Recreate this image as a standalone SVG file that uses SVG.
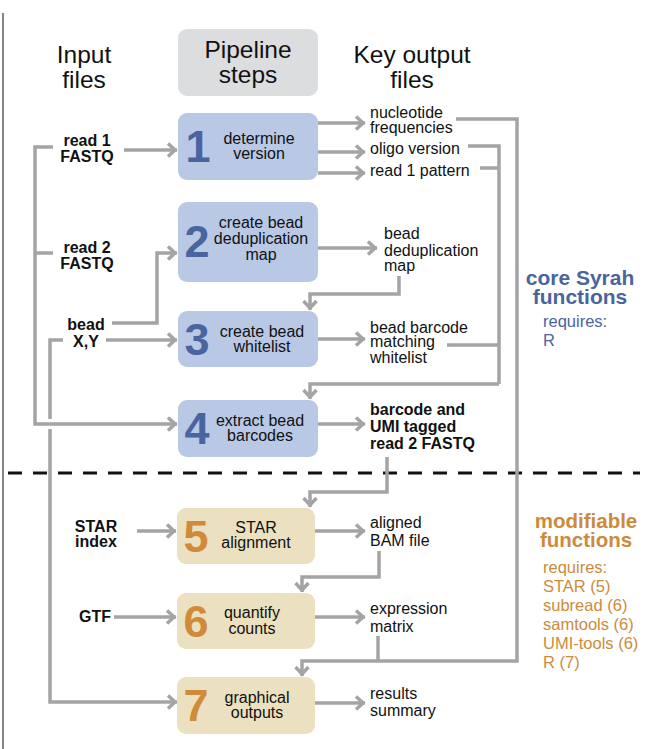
<svg xmlns="http://www.w3.org/2000/svg" width="649" height="749" viewBox="0 0 649 749">
<defs>
<style>
text{font-family:"Liberation Sans",Arial,sans-serif;fill:#111}
.hdr{font-size:24.5px;text-anchor:middle}
.in{font-size:16px;font-weight:bold;text-anchor:middle}
.bt{font-size:16px;text-anchor:middle}
.out{font-size:16px}
.outb{font-size:16px;font-weight:bold}
.num{font-size:45px;font-weight:bold;text-anchor:middle}
.nb{fill:#4a64a0}
.no{fill:#cf8a3a}
.blue{fill:#b8c8e5}
.tan{fill:#ebe0c0}
.cb{fill:#4a64a0}
.co{fill:#cc8b3c}
.h2{font-size:21px;font-weight:bold;text-anchor:middle}
.req{font-size:16.5px}
.c{fill:none;stroke:#a4a4a6;stroke-width:3.5;stroke-linejoin:miter}
.a{marker-end:url(#ah)}
</style>
<marker id="ah" markerUnits="userSpaceOnUse" viewBox="-12 -9 14 18" refX="0" refY="0" markerWidth="14" markerHeight="18" orient="auto">
<path d="M-9,-6.5 L-2,0 L-9,6.5" fill="none" stroke="#a4a4a6" stroke-width="3.5"/>
</marker>
</defs>
<rect width="649" height="749" fill="#fff"/>
<line x1="3" y1="13" x2="3" y2="749" stroke="#333" stroke-width="1.2"/>

<g id="headers">
<text class="hdr" x="84" y="63">Input</text>
<text class="hdr" x="84" y="88">files</text>
<rect x="178" y="29" width="140" height="67" rx="9" fill="#dcdddf"/>
<text class="hdr" x="248" y="58">Pipeline</text>
<text class="hdr" x="248" y="83">steps</text>
<text class="hdr" x="412" y="63">Key output</text>
<text class="hdr" x="412" y="88">files</text>
</g>

<line x1="8" y1="473" x2="640" y2="473" stroke="#111" stroke-width="3" stroke-dasharray="14 11"/>

<g id="connectors">
<path class="c" d="M53,147 H35 V424 H177" marker-end="url(#ah)"/>
<path class="c" d="M53,253 H35"/>
<path class="c a" d="M124,150 H177"/>
<path class="c a" d="M112,323 H157 V253 H177"/>
<path class="c a" d="M106,340 H177"/>
<path class="c" d="M63,340 H50 V419"/>
<path class="c a" d="M50,429 V702 H177"/>
<path class="c a" d="M137,531 H176"/>
<path class="c a" d="M114,617 H176"/>
<path class="c a" d="M318,123 H365"/>
<path class="c a" d="M318,152 H365"/>
<path class="c a" d="M318,173 H365"/>
<path class="c a" d="M318,248 H377"/>
<path class="c a" d="M318,339 H365"/>
<path class="c a" d="M318,424 H365"/>
<path class="c a" d="M315,531 H365"/>
<path class="c a" d="M315,617 H365"/>
<path class="c a" d="M315,703 H365"/>
<path class="c a" d="M399,276 V294 H310 V310"/>
<path class="c" d="M468,146 H499 V384"/>
<path class="c" d="M480,168 H499"/>
<path class="c" d="M447,345 H499"/>
<path class="c a" d="M499,384 H310 V399"/>
<path class="c a" d="M387,457 V492 H310 V507"/>
<path class="c a" d="M379,551 V577 H302 V592"/>
<path class="c a" d="M456,119 H517 V661 H302 V676"/>
<path class="c" d="M378,636 V661"/>
</g>

<g id="inputs">
<text class="in" x="87" y="146">read 1</text>
<text class="in" x="87" y="162">FASTQ</text>
<text class="in" x="87" y="253">read 2</text>
<text class="in" x="87" y="269">FASTQ</text>
<text class="in" x="86" y="330">bead</text>
<text class="in" x="86" y="347">X,Y</text>
<text class="in" x="96" y="532">STAR</text>
<text class="in" x="96" y="547">index</text>
<text class="in" x="95" y="622">GTF</text>
</g>

<g id="step1">
<rect class="blue" x="178" y="113" width="140" height="67" rx="9"/>
<text class="num nb" x="198" y="162">1</text>
<text class="bt" x="259" y="144">determine</text>
<text class="bt" x="259" y="159">version</text>
</g>
<g id="step2">
<rect class="blue" x="178" y="202" width="140" height="80" rx="9"/>
<text class="num nb" x="197" y="257">2</text>
<text class="bt" x="261" y="228">create bead</text>
<text class="bt" x="261" y="244">deduplication</text>
<text class="bt" x="261" y="260">map</text>
</g>
<g id="step3">
<rect class="blue" x="178" y="311" width="140" height="56" rx="9"/>
<text class="num nb" x="197" y="355">3</text>
<text class="bt" x="262" y="337">create bead</text>
<text class="bt" x="262" y="352">whitelist</text>
</g>
<g id="step4">
<rect class="blue" x="178" y="400" width="140" height="57" rx="9"/>
<text class="num nb" x="197" y="444">4</text>
<text class="bt" x="260" y="426">extract bead</text>
<text class="bt" x="260" y="441">barcodes</text>
</g>
<g id="step5">
<rect class="tan" x="177" y="508" width="138" height="56" rx="9"/>
<text class="num no" x="196" y="552">5</text>
<text class="bt" x="256" y="533">STAR</text>
<text class="bt" x="256" y="548">alignment</text>
</g>
<g id="step6">
<rect class="tan" x="177" y="593" width="138" height="56" rx="9"/>
<text class="num no" x="196" y="637">6</text>
<text class="bt" x="252" y="618">quantify</text>
<text class="bt" x="252" y="634">counts</text>
</g>
<g id="step7">
<rect class="tan" x="177" y="677" width="138" height="57" rx="9"/>
<text class="num no" x="196" y="721">7</text>
<text class="bt" x="257" y="703">graphical</text>
<text class="bt" x="257" y="718">outputs</text>
</g>

<g id="outputs">
<text class="out" x="370" y="118">nucleotide</text>
<text class="out" x="370" y="133">frequencies</text>
<text class="out" x="370" y="154">oligo version</text>
<text class="out" x="370" y="176">read 1 pattern</text>
<text class="out" x="384" y="239">bead</text>
<text class="out" x="384" y="256">deduplication</text>
<text class="out" x="384" y="271">map</text>
<text class="out" x="370" y="333">bead barcode</text>
<text class="out" x="370" y="347">matching</text>
<text class="out" x="370" y="363">whitelist</text>
<text class="outb" x="370" y="415">barcode and</text>
<text class="outb" x="370" y="432">UMI tagged</text>
<text class="outb" x="370" y="449">read 2 FASTQ</text>
<text class="out" x="370" y="528">aligned</text>
<text class="out" x="370" y="546">BAM file</text>
<text class="out" x="370" y="614">expression</text>
<text class="out" x="370" y="632">matrix</text>
<text class="out" x="370" y="699">results</text>
<text class="out" x="370" y="716">summary</text>
</g>

<g id="core">
<text class="h2 cb" x="580" y="285">core Syrah</text>
<text class="h2 cb" x="580" y="304">functions</text>
<text class="req cb" x="543" y="327">requires:</text>
<text class="req cb" x="543" y="346">R</text>
</g>
<g id="modifiable">
<text class="h2 co" x="586" y="528" style="font-size:20.5px">modifiable</text>
<text class="h2 co" x="586" y="547" style="font-size:20.5px">functions</text>
<text class="req co" x="543" y="573">requires:</text>
<text class="req co" x="543" y="592">STAR (5)</text>
<text class="req co" x="543" y="611">subread (6)</text>
<text class="req co" x="543" y="630">samtools (6)</text>
<text class="req co" x="543" y="649">UMI-tools (6)</text>
<text class="req co" x="543" y="668">R (7)</text>
</g>
</svg>
